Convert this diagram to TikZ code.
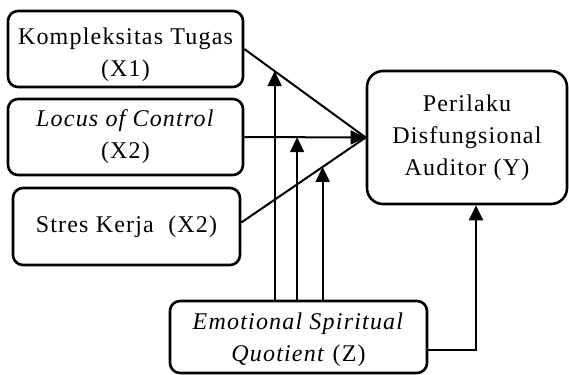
\documentclass[tikz,border=0pt]{standalone}
\usepackage{fontspec}
\setmainfont{Liberation Serif}[LetterSpace=5]
\usetikzlibrary{calc,arrows.meta}
\tikzset{
  box/.style={draw=black, line width=2.6pt, rounded corners=10pt, align=center, inner sep=0pt, font=\fontsize{24}{32}\selectfont},
  link/.style={draw=black, line width=2pt},
  arrow/.style={-{Triangle[length=15pt,width=14pt]}, draw=black, line width=2pt}
}
\begin{document}
\begin{tikzpicture}[x=1pt,y=-1pt]
  \useasboundingbox (0,0) rectangle (569,374);
  % variables
  \node[box, minimum width=235pt, minimum height=76pt, text height=61pt] (x1) at (125.5,49) {Kompleksitas Tugas\\(X1)};
  \node[box, minimum width=235pt, minimum height=76pt] (x2) at (125.5,137) {\textit{Locus of Control}\\(X2)};
  \node[box, minimum width=227pt, minimum height=77pt] (x3) at (126.5,226.5) {Stres Kerja~~(X2)};
  \node[box, minimum width=200pt, minimum height=133pt, rounded corners=16pt] (y) at (467,137.5) {Perilaku\\Disfungsional\\Auditor (Y)};
  \node[box, minimum width=257pt, minimum height=72pt, text height=55pt] (z) at (298.5,337) {\textit{Emotional Spiritual}\\\textit{Quotient} (Z)};
  % direct paths
  \draw[link] (x1.east) -- (y.west) coordinate[pos=0.25] (m1);
  \draw[arrow] (x2.east) -- (y.west) coordinate[pos=0.435] (m2);
  \draw[link] ([yshift=4pt]x3.east) -- (y.west) coordinate[pos=0.654] (m3);
  % moderation
  \draw[arrow] (m1 |- z.north) -- (m1);
  \draw[arrow] (m2 |- z.north) -- (m2);
  \draw[arrow] (m3 |- z.north) -- (m3);
  \draw[arrow] ([yshift=-13pt]z.east) -| ([xshift=9pt]y.south);
\end{tikzpicture}
\end{document}
